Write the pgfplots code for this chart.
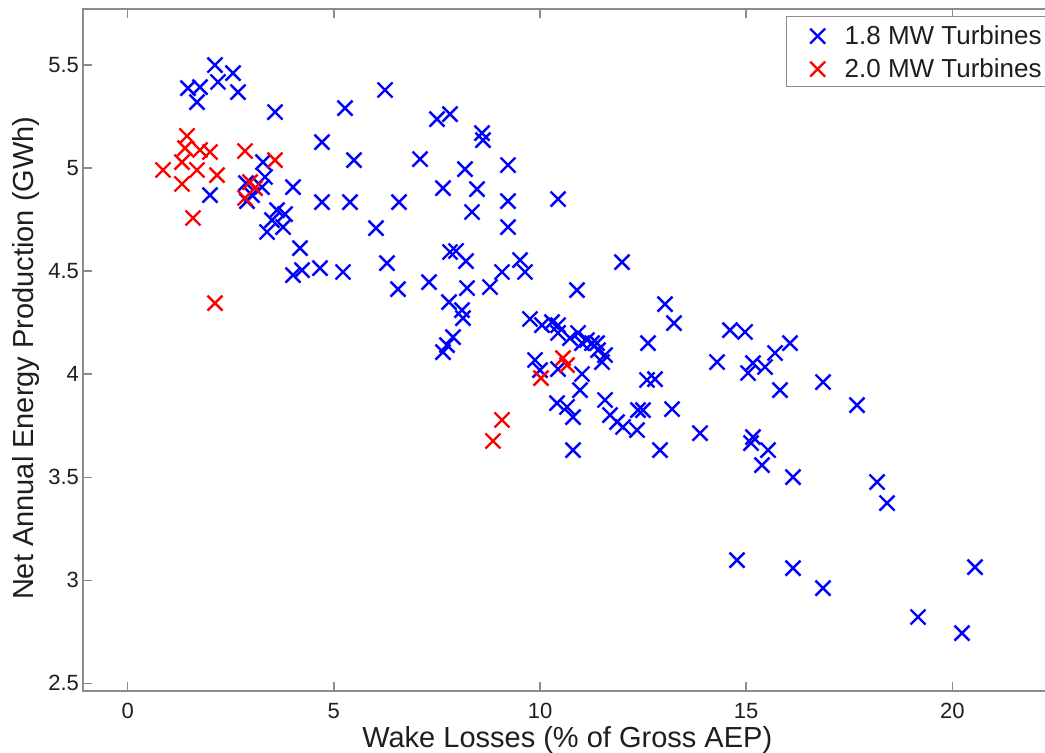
\documentclass[border=0pt]{standalone}
\usepackage{pgfplots}
\pgfplotsset{compat=1.18}
\usepackage{fontspec}
\setmainfont{Liberation Sans}
\definecolor{axgray}{RGB}{140,140,140}
\definecolor{txt}{RGB}{30,30,30}
\begin{document}
\begin{tikzpicture}
\path[use as bounding box] (-41.5pt,-30.5pt) rectangle (481pt,345.5pt);
\clip (-41.5pt,-30.5pt) rectangle (481pt,345.5pt);
\begin{axis}[
  at={(0pt,0pt)}, anchor=south west,
  scale only axis, width=486.2pt, height=341pt,
  xmin=-1.084, xmax=22.5, ymin=2.463, ymax=5.772,
  xtick={0,5,10,15,20},
  ytick={2.5,3,3.5,4,4.5,5,5.5},
  yticklabels={2.5,3,3.5,4,4.5,5,5.5},
  /pgf/number format/assume math mode=true,
  tick align=inside, major tick length=4.5pt,
  axis line style={axgray, line width=0.75pt},
  tick style={axgray, line width=0.75pt},
  ticklabel style={font=\fontsize{11}{13}\selectfont, text=txt},
  xticklabel style={yshift=-2.5pt},
  yticklabel style={xshift=1.5pt},
  label style={font=\fontsize{14.5}{17}\selectfont, text=txt},
  xlabel={Wake Losses (\% of Gross AEP)},
  ylabel={Net Annual Energy Production (GWh)},
  xlabel style={at={(axis description cs:0.498,-0.0718)}, anchor=center},
  ylabel style={at={(axis description cs:-0.0586,0.488)}, anchor=center},
  legend style={at={(axis description cs:0.723,0.9897)}, anchor=north west,
    draw=axgray, line width=0.6pt, fill=white, inner xsep=0pt, inner ysep=1pt,
    font=\fontsize{13}{15}\selectfont, text=txt, cells={anchor=west},
    nodes={inner sep=0pt}, row sep=0pt, column sep=0pt},
  legend image code/.code={\path[draw=none,fill=none] (0pt,-7.75pt) rectangle (29pt,8.75pt); \draw[#1] plot coordinates {(15.5pt,0pt)};},
]
\addplot[only marks, mark=x, mark size=5.3pt, color=blue, line width=1.2pt] coordinates {
(1.462,5.388)(1.754,5.393)(1.681,5.320)(2.117,5.500)(2.190,5.418)(2.554,5.461)(2.675,5.369)(3.573,5.272)(1.996,4.869)
(2.869,4.927)(2.893,4.840)(3.015,4.869)(3.257,4.908)(3.330,4.957)(3.282,5.029)(4.009,4.908)(4.712,5.126)(4.712,4.835)(3.621,4.796)(3.815,4.777)(3.500,4.748)(3.379,4.690)(3.767,4.714)(4.179,4.612)(4.009,4.481)(4.227,4.505)(4.664,4.515)(5.222,4.496)
(6.241,5.379)(5.270,5.291)(5.489,5.039)(5.392,4.835)(6.580,4.835)(6.022,4.709)(6.289,4.539)(6.556,4.413)(7.308,4.447)(7.502,5.238)(7.817,5.262)(8.593,5.170)(8.617,5.136)(7.090,5.044)(8.181,4.995)(9.224,5.015)(7.647,4.903)(8.472,4.898)(8.351,4.787)(9.224,4.840)(9.224,4.714)(10.437,4.850)(7.817,4.593)(7.963,4.598)(8.205,4.549)(9.515,4.554)(9.636,4.496)(9.078,4.496)(8.787,4.423)(8.230,4.418)(10.897,4.408)(11.989,4.544)(7.793,4.350)(8.108,4.311)(8.132,4.272)(7.647,4.107)(7.744,4.141)(7.890,4.180)
(9.757,4.268)(10.048,4.238)(10.291,4.253)(10.437,4.238)(10.437,4.200)(10.727,4.175)(10.922,4.200)(11.019,4.151)(11.140,4.166)(11.261,4.151)(11.383,4.151)(11.407,4.117)(11.577,4.093)(11.504,4.059)(9.879,4.069)(10.000,4.020)(10.437,4.025)(11.019,4.001)(10.970,3.923)(10.412,3.860)(10.655,3.841)(10.800,3.792)(11.577,3.875)(11.698,3.802)(11.868,3.768)(12.013,3.744)(12.353,3.729)(12.377,3.826)(12.498,3.826)(12.619,4.151)(13.032,4.340)(13.250,4.248)(12.595,3.972)(12.789,3.976)(13.202,3.831)(10.800,3.632)(12.910,3.632)(13.881,3.714)
(14.608,4.214)(14.972,4.205)(16.063,4.151)(15.700,4.103)(14.293,4.059)(15.166,4.054)(15.045,4.006)(15.457,4.035)(15.821,3.923)(16.864,3.962)(17.689,3.850)(15.118,3.666)(15.166,3.695)(15.530,3.632)(15.384,3.559)(16.136,3.501)(18.174,3.477)(18.416,3.375)(14.778,3.098)(16.136,3.059)(16.864,2.962)(20.550,3.064)(19.168,2.822)(20.235,2.744)
};
\addlegendentry{1.8 MW Turbines\rule{6pt}{0pt}}
\addplot[only marks, mark=x, mark size=5.3pt, color=red, line width=1.2pt] coordinates {
(0.856,4.991)(1.438,5.156)(1.390,5.097)(1.317,5.029)(1.754,5.088)(1.996,5.078)(1.681,4.991)(1.317,4.923)(2.166,4.966)(1.584,4.758)(2.117,4.345)(2.845,5.083)(3.573,5.039)(2.966,4.932)(3.088,4.903)(2.845,4.855)(9.078,3.778)(8.859,3.676)(10.024,3.981)(10.558,4.078)(10.655,4.044)
};
\addlegendentry{2.0 MW Turbines\rule{6pt}{0pt}}
\end{axis}
\end{tikzpicture}
\end{document}
